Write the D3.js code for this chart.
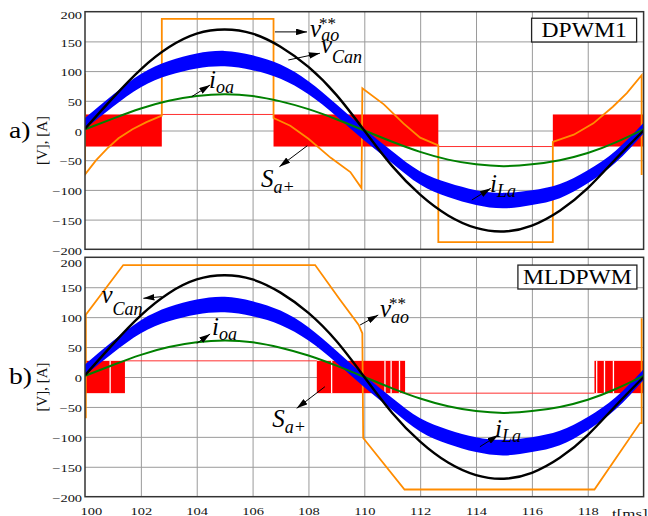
<!DOCTYPE html>
<html>
<head>
<meta charset="utf-8">
<script src="https://cdn.jsdelivr.net/npm/d3@7/dist/d3.min.js"></script>
<style>
  body { margin: 0; background: #fff; }
  text { font-family: "Liberation Serif", "Times New Roman", serif; }
</style>
</head>
<body>
<div id="chart"></div>
<script>
// axes
const xTicks = [100, 102, 104, 106, 108, 110, 112, 114, 116, 118];
const xGrid = [102, 104, 106, 108, 110, 112, 114, 116, 118];
const yTicks = [200, 150, 100, 50, 0, -50, -100, -150, -200];

// waveforms read every 1 ms (same in both panels)
const tSamples = [100, 101, 102, 103, 104, 105, 106, 107, 108, 109, 110, 111, 112, 113, 114, 115, 116, 117, 118, 119, 120];
const vCan = [3, 55, 103, 140, 163, 170, 163, 141, 107, 60, 0, -60, -108, -143, -164, -170, -160, -135, -97, -48, 0];
const iLa = [12, 50, 84, 105, 117, 121, 114, 99, 72, 34, -7, -45, -80, -100, -113, -118, -113, -102, -78, -44, 4];
const iLaRipple = [9, 10, 11, 12, 12.5, 13, 12.5, 12, 11, 10, 10, 10, 11, 12, 12.5, 13, 12.5, 12, 11, 10, 9];
const ioa = [2, 20, 37, 50, 58, 61, 58, 49, 36, 19, 0, -19, -36, -49, -57, -60, -57, -50, -38, -20, 2];

// v_ao** reference, [t ms, V]
const vaoDPWM1 = [[100, 96], [100, -74], [100.4, -50], [100.8, -30], [101.2, -13], [101.7, 2], [102.2, 14], [102.75, 25],
  [102.75, 188], [106.75, 188], [106.75, 21], [107.35, 8], [108, -14], [108.8, -46], [109.5, -70], [109.9, -97],
  [109.93, 71], [110.7, 44], [111.4, 12], [112, -12], [112.65, -25], [112.65, -188], [116.75, -188], [116.75, -19],
  [117.5, -7], [118.2, 12], [118.9, 40], [119.4, 63], [119.93, 93], [119.93, -75]];
const vaoMLDPWM = [[100.03, -69], [100.03, 104], [101.37, 187], [108.24, 187], [109.13, 129], [109.8, 87], [109.93, 73],
  [109.96, -102], [111.44, -188], [118.24, -188], [119.87, -77], [119.93, -77], [119.93, 98]];

// S_a+ : switching intervals (solid), clamped on / off intervals, single-pulse gaps
const sLevel = 27;
const pwmDPWM1 = [[100, 102.75], [106.75, 112.65], [116.75, 120]];
const onDPWM1 = [[102.75, 106.75]];
const offDPWM1 = [[112.65, 116.75]];
const gapDPWM1 = [];
const pwmMLDPWM = [[100, 101.43], [108.3, 111.46], [118.24, 120]];
const onMLDPWM = [[101.43, 108.3]];
const offMLDPWM = [[111.46, 118.24]];
const gapMLDPWM = [100.9, 108.83, 110.74, 110.96, 111.26, 118.32, 118.6, 118.92];

const rows = tSamples.map((t, i) => ({ t: t, vCan: vCan[i], iLa: iLa[i], r: iLaRipple[i], ioa: ioa[i] }));

const width = 648, height = 516;
const svg = d3.select("#chart").append("svg")
  .attr("width", width)
  .attr("height", height);

const x = d3.scaleLinear().domain([100, 120]).range([85, 643.6]);

svg.append("defs").append("marker")
  .attr("id", "arrow")
  .attr("viewBox", "0 0 10 6")
  .attr("refX", 10).attr("refY", 3)
  .attr("markerWidth", 11).attr("markerHeight", 6.6)
  .attr("markerUnits", "userSpaceOnUse")
  .attr("orient", "auto")
  .append("path").attr("d", "M0,0L10,3L0,6z").attr("fill", "#000");

var panels = [
  {
    top: 11.7, bottom: 249.3, tag: "a)", box: "DPWM1", boxT: [115.99, 119.75], boxV: [189, 149],
    vao: vaoDPWM1, pwm: pwmDPWM1, on: onDPWM1, off: offDPWM1, gaps: gapDPWM1, showX: false, topShift: 4,
    arrows: [[106.8, 166, 107.95, 166], [107.28, 118.7, 108.41, 130], [103.82, 57, 104.48, 76.6],
             [107.96, -25.6, 106.96, -61], [113.85, -117, 114.53, -97.3]],
    labels: [
      { t: 108.06, v: 157.5, main: "v", sub: "ao", sup: "**", subDy: 4 },
      { t: 108.45, v: 130.5, main: "v", sub: "Can", subDy: 10 },
      { t: 104.44, v: 71.5, main: "i", sub: "oa", subDy: 5 },
      { t: 106.30, v: -95, main: "S", sub: "a+", subDy: 6 },
      { t: 114.50, v: -103.5, main: "i", sub: "La", subDy: 5 }
    ]
  },
  {
    top: 257.3, bottom: 496.7, tag: "b)", box: "MLDPWM", boxT: [115.5, 119.76], boxV: [187, 147],
    vao: vaoMLDPWM, pwm: pwmMLDPWM, on: onMLDPWM, off: offMLDPWM, gaps: gapMLDPWM, showX: true, topShift: 6,
    arrows: [[102.75, 134.2, 102.09, 131.5], [104.0, 56.3, 104.48, 71.8], [109.85, 86.9, 110.5, 103.6],
             [108.59, -16.2, 107.58, -52.3], [114.14, -116.5, 114.8, -96.9]],
    labels: [
      { t: 100.59, v: 123.6, main: "v", sub: "Can", subDy: 12 },
      { t: 104.55, v: 70.2, main: "i", sub: "oa", subDy: 5 },
      { t: 110.56, v: 100.3, main: "v", sub: "ao", sup: "**", subDy: 6 },
      { t: 106.70, v: -83.5, main: "S", sub: "a+", subDy: 6 },
      { t: 114.68, v: -100.3, main: "i", sub: "La", subDy: 5 }
    ]
  }
];

panels.forEach(function (p, k) {
  var y = d3.scaleLinear().domain([-200, 200]).range([p.bottom, p.top]);
  var g = svg.append("g");
  var pw = x(120) - x(100), ph = p.bottom - p.top;

  g.append("clipPath").attr("id", "clip" + k)
    .append("rect").attr("x", x(100)).attr("y", p.top).attr("width", pw).attr("height", ph);

  // grid
  g.append("g")
    .attr("transform", "translate(0," + p.bottom + ")")
    .call(d3.axisBottom(x).tickValues(xGrid).tickSize(-ph).tickFormat(""))
    .call(a => a.select(".domain").remove())
    .selectAll("line").attr("stroke", "#9a9a9a").attr("stroke-width", 1);
  g.append("g")
    .attr("transform", "translate(" + x(100) + ",0)")
    .call(d3.axisLeft(y).tickValues(yTicks.slice(1, -1)).tickSize(-pw).tickFormat(""))
    .call(a => a.select(".domain").remove())
    .selectAll("line").attr("stroke", "#9a9a9a").attr("stroke-width", 1);

  // y tick labels
  var yAx = g.append("g")
    .attr("transform", "translate(" + x(100) + ",0)")
    .attr("font-family", "Liberation Serif")
    .attr("font-size", 13.5)
    .call(d3.axisLeft(y).tickValues(yTicks).tickSize(0).tickPadding(2));
  yAx.select(".domain").remove();
  yAx.selectAll("text")
    .attr("fill", "#111")
    .attr("y", d => d === 200 ? p.topShift : 1.5)
    .attr("transform", "scale(1.45,1)");

  if (p.showX) {
    var xAx = g.append("g")
      .attr("transform", "translate(0," + p.bottom + ")")
      .attr("font-family", "Liberation Serif")
      .attr("font-size", 13.5)
      .call(d3.axisBottom(x).tickValues(xTicks).tickSize(0).tickPadding(11.5));
    xAx.select(".domain").remove();
    xAx.selectAll("text")
      .attr("fill", "#111")
      .attr("x", d => d === 100 ? 4 : 0)
      .attr("transform", "scale(1.45,1)");
    g.append("text")
      .attr("transform", "translate(612," + (p.bottom + 21) + ") scale(1.25,1)")
      .attr("font-size", 13.5).attr("fill", "#111")
      .text("t[ms]");
  }

  var plot = g.append("g").attr("clip-path", "url(#clip" + k + ")");

  // S_a+ switching signal
  plot.selectAll("rect.pwm").data(p.pwm).enter().append("rect")
    .attr("class", "pwm")
    .attr("x", d => x(d[0])).attr("width", d => x(d[1]) - x(d[0]))
    .attr("y", y(sLevel)).attr("height", y(-sLevel) - y(sLevel))
    .attr("fill", "#ff0000");
  plot.selectAll("line.gap").data(p.gaps).enter().append("line")
    .attr("class", "gap")
    .attr("x1", d => x(d)).attr("x2", d => x(d))
    .attr("y1", y(sLevel)).attr("y2", y(-sLevel))
    .attr("stroke", "#fff").attr("stroke-width", 1.3);
  plot.selectAll("line.on").data(p.on).enter().append("line")
    .attr("class", "on")
    .attr("x1", d => x(d[0])).attr("x2", d => x(d[1]))
    .attr("y1", y(sLevel)).attr("y2", y(sLevel))
    .attr("stroke", "#ff3030").attr("stroke-width", 1);
  plot.selectAll("line.off").data(p.off).enter().append("line")
    .attr("class", "off")
    .attr("x1", d => x(d[0])).attr("x2", d => x(d[1]))
    .attr("y1", y(-sLevel)).attr("y2", y(-sLevel))
    .attr("stroke", "#ff3030").attr("stroke-width", 1);

  // v_ao**
  plot.append("path")
    .datum(p.vao)
    .attr("fill", "none")
    .attr("stroke", "#ff8c00")
    .attr("stroke-width", 1.8)
    .attr("d", d3.line().x(d => x(d[0])).y(d => y(d[1])));

  // i_La with ripple band
  plot.append("path")
    .datum(rows)
    .attr("fill", "#0000ff")
    .attr("d", d3.area().curve(d3.curveNatural)
      .x(d => x(d.t)).y0(d => y(d.iLa - d.r)).y1(d => y(d.iLa + d.r)));

  // i_oa
  plot.append("path")
    .datum(rows)
    .attr("fill", "none").attr("stroke", "#008000").attr("stroke-width", 2)
    .attr("d", d3.line().curve(d3.curveNatural).x(d => x(d.t)).y(d => y(d.ioa)));

  // v_Can
  plot.append("path")
    .datum(rows)
    .attr("fill", "none").attr("stroke", "#000").attr("stroke-width", 2.4)
    .attr("d", d3.line().curve(d3.curveNatural).x(d => x(d.t)).y(d => y(d.vCan)));

  // frame
  g.append("rect")
    .attr("x", x(100)).attr("y", p.top).attr("width", pw).attr("height", ph)
    .attr("fill", "none").attr("stroke", "#333").attr("stroke-width", 1.5);

  // annotations
  g.selectAll("line.arrow").data(p.arrows).enter().append("line")
    .attr("class", "arrow")
    .attr("x1", d => x(d[0])).attr("y1", d => y(d[1]))
    .attr("x2", d => x(d[2])).attr("y2", d => y(d[3]))
    .attr("stroke", "#000").attr("stroke-width", 1)
    .attr("marker-end", "url(#arrow)");

  p.labels.forEach(function (l) {
    var t = g.append("text")
      .attr("x", x(l.t)).attr("y", y(l.v))
      .attr("font-style", "italic").attr("fill", "#000");
    t.append("tspan").attr("font-size", 25).text(l.main);
    t.append("tspan").attr("font-size", 18).attr("dy", l.subDy).text(l.sub);
    if (l.sup) {
      g.append("text")
        .attr("x", x(l.t) + 9).attr("y", y(l.v) - 7.5)
        .attr("font-size", 17).attr("fill", "#000")
        .text(l.sup);
    }
  });

  // method box
  var bx = x(p.boxT[0]), bw = x(p.boxT[1]) - bx, by = y(p.boxV[0]), bh = y(p.boxV[1]) - by;
  g.append("rect").attr("x", bx).attr("y", by).attr("width", bw).attr("height", bh)
    .attr("fill", "#fff").attr("stroke", "#222").attr("stroke-width", 1.3);
  g.append("text")
    .attr("transform", "translate(" + (bx + bw / 2) + "," + (by + bh - 5) + ") scale(1.18,1)")
    .attr("text-anchor", "middle").attr("font-size", 20).attr("fill", "#000")
    .text(p.box);

  // axis title and panel tag
  g.append("text")
    .attr("transform", "translate(47," + (y(0) + 10) + ") rotate(-90)")
    .attr("text-anchor", "middle").attr("font-size", 15).attr("fill", "#111")
    .text("[V], [A]");
  g.append("text")
    .attr("transform", "translate(9," + (y(0) + 7) + ") scale(1.15,1)")
    .attr("font-size", 24).attr("fill", "#000")
    .text(p.tag);
});
</script>
</body>
</html>
